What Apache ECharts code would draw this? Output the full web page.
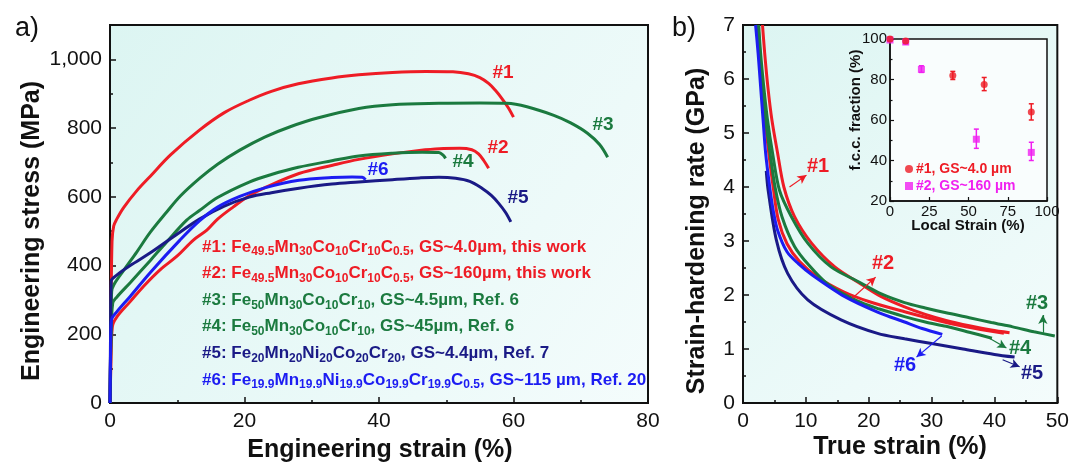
<!DOCTYPE html>
<html>
<head>
<meta charset="utf-8">
<script src="https://cdn.jsdelivr.net/npm/echarts@6/dist/echarts.min.js"></script>
<style>
  html, body { margin: 0; padding: 0; background: #fff; }
  #main { width: 1072px; height: 462px; }
</style>
</head>
<body>
<div id="main"></div>
<script>
// engineering stress-strain curves, [strain %, stress MPa]
const tensile1 = [[0,0],[0.15,250],[0.3,470],[0.55,515],[1,535],[2,568],[4,618],[6,660],[9,722],[13.3,794],[17,845],[20.7,881],[24,907],[28,929],[33,946],[37,955],[42,962],[47,965],[51,964],[53.3,958],[55,947],[56.3,930],[57.3,910],[58.2,888],[59.2,860],[60,832]]
const tensile2 = [[0,0],[0.15,120],[0.35,222],[1,250],[3,295],[5,340],[7.4,387],[10,428],[12.4,474],[14.4,503],[16,535],[18.3,570],[20.7,603],[23.2,628],[28.1,668],[33.1,692],[37,709],[42,725],[46,735],[49,740],[52,741],[53.8,737],[54.8,725],[55.6,705],[56.3,683]]
const tensile3 = [[0,0],[0.12,200],[0.25,325],[0.6,345],[2,385],[4,440],[6,497],[8.4,555],[10.5,603],[13.4,655],[16,695],[19.3,736],[23,774],[26.8,804],[31,830],[37,857],[42,868],[48.9,872],[55,873],[59,872],[62,862],[66,837],[68.5,815],[71,785],[72.8,752],[74,715]]
const tensile4 = [[0,0],[0.15,180],[0.4,290],[1,308],[3,350],[6,415],[8.4,468],[11.4,532],[13.3,560],[16,598],[20.7,643],[24,665],[28,686],[33,705],[37,719],[42,727],[46.4,730],[48.9,729],[49.5,722],[49.9,712]]
const tensile5 = [[0,0],[0.08,200],[0.18,355],[1,372],[3,400],[6,437],[9,478],[13.3,535],[17,573],[20.7,599],[24,612],[28.1,625],[33,637],[37,643],[42,650],[46,655],[48.9,657],[51.4,654],[53.5,645],[55.3,625],[56.7,604],[57.8,581],[58.8,555],[59.6,527]]
const tensile6 = [[0,0],[0.08,150],[0.2,240],[1,265],[3,310],[6,380],[10.4,474],[13.3,530],[16,570],[19.3,601],[23,626],[28.1,648],[33,656],[36,658],[37.5,657],[38,650]]

// strain-hardening rate, [true strain %, GPa]
const rate1 = [[3.1,7.0],[3.45,6.48],[3.95,5.86],[4.6,5.24],[5.5,4.63],[6.5,4.0],[8.2,3.45],[10.9,2.96],[14.6,2.52],[18.8,2.2],[22,1.97],[25.7,1.78],[29,1.64],[32.3,1.53],[36,1.43],[39.5,1.35],[42.4,1.3]]
const rate2 = [[2.3,7.0],[2.6,6.48],[3.0,5.86],[3.5,5.24],[4.1,4.63],[4.8,4.0],[5.6,3.4],[7,2.95],[9,2.62],[12,2.32],[16,2.06],[20,1.88],[25.7,1.69],[32,1.5],[37,1.38],[41.5,1.29]]
const rate3 = [[2.5,7.0],[2.8,6.48],[3.3,5.86],[3.9,5.24],[4.7,4.63],[5.8,3.94],[7.7,3.45],[10.3,2.96],[14.0,2.52],[18.3,2.25],[22,2.02],[25.7,1.86],[29,1.76],[32.3,1.67],[36,1.58],[39.5,1.49],[42.9,1.41],[46.3,1.32],[49.6,1.24]]
const rate4 = [[2.4,7.0],[2.7,6.48],[3.1,5.86],[3.6,5.24],[4.3,4.63],[5.1,4.0],[6.2,3.45],[8.2,2.9],[10.5,2.55],[13.5,2.2],[18,1.9],[21.7,1.74],[25.7,1.6],[29,1.5],[32.3,1.42],[36,1.31],[39.6,1.2]]
const rate5 = [[3.7,4.3],[4.0,3.94],[5.3,3.02],[7.1,2.4],[10.3,1.91],[15.6,1.54],[21.4,1.29],[25.7,1.19],[30,1.1],[35,1.0],[40,0.9],[43.2,0.85]]
const rate6 = [[2.0,7.0],[2.4,6.48],[2.8,5.86],[3.2,5.24],[3.6,4.63],[4.25,4.0],[4.8,3.57],[5.5,3.2],[7,2.8],[8.8,2.58],[10.9,2.38],[16.2,1.97],[21.5,1.68],[25.7,1.5],[28.5,1.38],[31.7,1.27]]

// inset: f.c.c. fraction vs local strain, error bars as [x, low, high]
const fcc1 = [[0,100],[10,99],[40,82],[60,77.5],[90,64]]
const fcc1Err = [[0,99,101],[10,98,100],[40,80,84],[60,74.5,81],[90,60,68]]
const fcc2 = [[0,99.5],[10,98.5],[20,85],[55,50.5],[90,44]]
const fcc2Err = [[0,99,100],[10,97.5,99.5],[20,83.5,86.8],[55,46,55.5],[90,40,49]]

// arrows in panel b, [from, to]
const arrows = [
  [[7.4, 4.0], [10.1, 4.22]],
  [[17.4, 1.94], [21.1, 2.33]],
  [[47.7, 1.3], [47.7, 1.63]],
  [[39.2, 1.2], [41.9, 1.02]],
  [[41.3, 0.8], [44.0, 0.67]],
  [[31.6, 1.24], [27.6, 0.85]],
]

const legendLines = [
  '#1: Fe_{49.5}Mn_{30}Co_{10}Cr_{10}C_{0.5}, GS~4.0µm, this work',
  '#2: Fe_{49.5}Mn_{30}Co_{10}Cr_{10}C_{0.5}, GS~160µm, this work',
  '#3: Fe_{50}Mn_{30}Co_{10}Cr_{10}, GS~4.5µm, Ref. 6',
  '#4: Fe_{50}Mn_{30}Co_{10}Cr_{10}, GS~45µm, Ref. 6',
  '#5: Fe_{20}Mn_{20}Ni_{20}Co_{20}Cr_{20}, GS~4.4µm, Ref. 7',
  '#6: Fe_{19.9}Mn_{19.9}Ni_{19.9}Co_{19.9}Cr_{19.9}C_{0.5}, GS~115 µm, Ref. 20',
]

const RED = '#ee1c25'
const GREEN = '#1b7a3f'
const NAVY = '#1a1a86'
const BLUE = '#1c1cf2'
const MAGENTA = '#f01ff0'
const colors = [RED, RED, GREEN, GREEN, NAVY, BLUE]
const FONT = 'Liberation Sans, Arial, sans-serif'

const chart = echarts.init(document.getElementById('main'))

const bg = {
  type: 'linear', x: 0, y: 0, x2: 1, y2: 1,
  colorStops: [{ offset: 0, color: '#dcf5f2' }, { offset: 1, color: '#f4fcfc' }],
}

function axis (gridIndex, min, max, interval, extra) {
  return Object.assign({
    gridIndex,
    type: 'value',
    min,
    max,
    interval,
    axisLine: { show: true, onZero: false, lineStyle: { color: '#111', width: 2 } },
    axisTick: { show: true, inside: true, length: 6, lineStyle: { color: '#111', width: 1.5 } },
    minorTick: { show: true, splitNumber: 2, length: 3, lineStyle: { color: '#111', width: 1.5 } },
    splitLine: { show: false },
    axisLabel: { color: '#111', fontSize: 21, fontFamily: FONT, margin: 8 },
  }, extra || {})
}

function rich (str) {
  return '{m|' + str.replace(/_\{([^}]*)\}/g, '}{s|$1}{m|') + '}'
}

function errBar (params, api) {
  const x = api.value(0)
  const p1 = api.coord([x, api.value(1)])
  const p2 = api.coord([x, api.value(2)])
  const c = api.visual('color')
  const w = 2.5
  const st = { stroke: c, lineWidth: 1.5 }
  return {
    type: 'group',
    children: [
      { type: 'line', shape: { x1: p1[0], y1: p1[1], x2: p2[0], y2: p2[1] }, style: st },
      { type: 'line', shape: { x1: p1[0] - w, y1: p1[1], x2: p1[0] + w, y2: p1[1] }, style: st },
      { type: 'line', shape: { x1: p2[0] - w, y1: p2[1], x2: p2[0] + w, y2: p2[1] }, style: st },
    ],
  }
}

const tensile = [tensile1, tensile2, tensile3, tensile4, tensile5, tensile6]
const rates = [rate1, rate2, rate3, rate4, rate5, rate6]

const series = []
tensile.forEach((d, i) => {
  series.push({
    type: 'line', xAxisIndex: 0, yAxisIndex: 0, data: d, showSymbol: false,
    smooth: 0.35, lineStyle: { color: colors[i], width: 3 }, z: 3,
  })
})
rates.forEach((d, i) => {
  series.push({
    type: 'line', xAxisIndex: 1, yAxisIndex: 1, data: d, showSymbol: false,
    smooth: 0.3, lineStyle: { color: colors[i], width: 3 }, z: 3,
    markLine: {
      silent: true, animation: false,
      symbol: ['none', 'arrow'], symbolSize: [7, 9],
      label: { show: false },
      lineStyle: { color: colors[i], width: 1.2, type: 'solid' },
      data: [[{ coord: arrows[i][0] }, { coord: arrows[i][1] }]],
    },
  })
})
series.push(
  { type: 'custom', name: 'err1', xAxisIndex: 2, yAxisIndex: 2, data: fcc1Err, renderItem: errBar, itemStyle: { color: RED }, encode: { x: 0, y: [1, 2] }, z: 5 },
  { type: 'custom', name: 'err2', xAxisIndex: 2, yAxisIndex: 2, data: fcc2Err, renderItem: errBar, itemStyle: { color: MAGENTA }, encode: { x: 0, y: [1, 2] }, z: 5 },
  { type: 'scatter', name: '#2, GS~160 µm', xAxisIndex: 2, yAxisIndex: 2, data: fcc2, symbol: 'rect', symbolSize: 7, itemStyle: { color: MAGENTA }, z: 6 },
  { type: 'scatter', name: '#1, GS~4.0 µm', xAxisIndex: 2, yAxisIndex: 2, data: fcc1, symbol: 'circle', symbolSize: 7, itemStyle: { color: RED }, z: 7 },
)

const graphic = []
const txt = (x, y, text, font, fill, extra) => Object.assign({
  type: 'text', x, y, z: 100,
  style: { text, font, fill, align: 'center', verticalAlign: 'middle' },
}, extra || {})

graphic.push(txt(27, 29, 'a)', '27px ' + FONT, '#111'))
graphic.push(txt(684, 29, 'b)', '27px ' + FONT, '#111'))
graphic.push(txt(32, 231, 'Engineering stress (MPa)', 'bold 25px ' + FONT, '#111', { rotation: Math.PI / 2 }))
graphic.push(txt(380, 450, 'Engineering strain (%)', 'bold 25px ' + FONT, '#111'))
graphic.push(txt(697, 231, 'Strain-hardening rate (GPa)', 'bold 25px ' + FONT, '#111', { rotation: Math.PI / 2 }))
graphic.push(txt(900, 447, 'True strain (%)', 'bold 25px ' + FONT, '#111'))
graphic.push(txt(856, 110, 'f.c.c. fraction (%)', 'bold 15px ' + FONT, '#111', { rotation: Math.PI / 2 }))
graphic.push(txt(968, 226, 'Local Strain (%)', 'bold 15px ' + FONT, '#111'))

// curve tags
const tagsA = [['#1', 503, 73], ['#2', 498, 148], ['#3', 603, 125], ['#4', 463, 162], ['#5', 518, 198], ['#6', 378, 170]]
tagsA.forEach((t, i) => graphic.push(txt(t[1], t[2], t[0], 'bold 19px ' + FONT, colors[i])))
const tagsB = [['#1', 818, 166], ['#2', 883, 263], ['#3', 1037, 303], ['#4', 1020, 348], ['#5', 1032, 373], ['#6', 905, 365]]
tagsB.forEach((t, i) => graphic.push(txt(t[1], t[2], t[0], 'bold 20px ' + FONT, colors[i])))

// composition legend
legendLines.forEach((line, i) => {
  graphic.push({
    type: 'text', x: 202, y: 247 + i * 26.6, z: 100,
    style: {
      text: rich(line), align: 'left', verticalAlign: 'middle',
      rich: {
        m: { fontSize: 17, fontWeight: 'bold', fontFamily: FONT, fill: colors[i], lineHeight: 22 },
        s: { fontSize: 12, fontWeight: 'bold', fontFamily: FONT, fill: colors[i], lineHeight: 12, verticalAlign: 'bottom' },
      },
    },
  })
})

chart.setOption({
  animation: false,
  backgroundColor: '#fff',
  grid: [
    { left: 110, top: 25, width: 538, height: 378, show: true, backgroundColor: bg, borderColor: '#111', borderWidth: 2 },
    { left: 743, top: 25, width: 315, height: 378, show: true, backgroundColor: bg, borderColor: '#111', borderWidth: 2 },
    { left: 890, top: 39, width: 157, height: 162, show: true, backgroundColor: '#f9fdfd', borderColor: '#111', borderWidth: 1.5, z: 4 },
  ],
  xAxis: [
    axis(0, 0, 80, 20),
    axis(1, 0, 50, 10),
    axis(2, 0, 100, 25, {
      minorTick: { show: false },
      axisTick: { show: true, inside: true, length: 4, lineStyle: { color: '#111', width: 1.2 } },
      axisLine: { show: true, onZero: false, lineStyle: { color: '#111', width: 1.5 } },
      axisLabel: { color: '#111', fontSize: 15, fontFamily: FONT, margin: 3 },
      z: 5,
    }),
  ],
  yAxis: [
    axis(0, 0, 1100, 200, {
      axisLabel: { color: '#111', fontSize: 21, fontFamily: FONT, margin: 8, showMaxLabel: false, formatter: v => v.toLocaleString('en-US') },
    }),
    axis(1, 0, 7, 1),
    axis(2, 20, 100, 20, {
      axisTick: { show: true, inside: true, length: 4, lineStyle: { color: '#111', width: 1.2 } },
      minorTick: { show: true, splitNumber: 2, length: 2.5, lineStyle: { color: '#111', width: 1.2 } },
      axisLine: { show: true, onZero: false, lineStyle: { color: '#111', width: 1.5 } },
      axisLabel: { color: '#111', fontSize: 15, fontFamily: FONT, margin: 3 },
      z: 5,
    }),
  ],
  legend: {
    data: [
      { name: '#1, GS~4.0 µm', textStyle: { color: RED } },
      { name: '#2, GS~160 µm', textStyle: { color: MAGENTA } },
    ],
    orient: 'vertical',
    left: 905,
    top: 162,
    itemWidth: 8,
    itemHeight: 8,
    itemGap: 3,
    padding: 0,
    textStyle: { fontSize: 14, fontWeight: 'bold', fontFamily: FONT, padding: [0, 0, 0, -2] },
    z: 8,
  },
  graphic,
  series,
})
</script>
</body>
</html>
